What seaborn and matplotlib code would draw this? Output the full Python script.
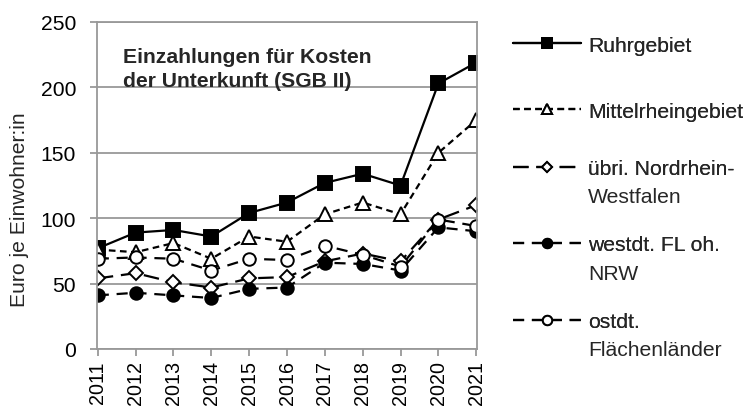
import matplotlib
matplotlib.use("Agg")
import matplotlib.pyplot as plt
import seaborn as sns
import pandas as pd

years = list(range(2011, 2022))
ruhrgebiet = [77, 89, 91, 86, 104, 112, 127, 134, 125, 203, 219]
mittelrhein = [76, 74, 81, 69, 86, 82, 103, 112, 103, 150, 175]
uebri_nrw = [54, 58, 51, 47, 54, 55, 67, 73, 67, 99, 110]
westdt_fl = [41, 43, 41, 39, 46, 47, 66, 65, 60, 93, 90]
ostdt_fl = [69, 70, 69, 60, 69, 68, 79, 72, 63, 99, 94]

series_names = ["Ruhrgebiet", "Mittelrheingebiet", "übri. Nordrhein-\nWestfalen",
                "westdt. FL oh.\nNRW", "ostdt.\nFlächenländer"]
series_values = [ruhrgebiet, mittelrhein, uebri_nrw, westdt_fl, ostdt_fl]

df = pd.DataFrame({
    "Jahr": [str(y) for _ in series_names for y in years],
    "Wert": [v for vals in series_values for v in vals],
    "Region": [n for n in series_names for _ in years],
})

sns.set_theme(style="white")
plt.rcParams["font.family"] = ["Liberation Sans", "DejaVu Sans"]
FS = 15.2
GRID = "#999999"

styles = {
    series_names[0]: dict(marker="s", mfc="black", dashes=None, ms=9.5),
    series_names[1]: dict(marker="^", mfc="white", dashes=(3, 2), ms=9.5),
    series_names[2]: dict(marker="D", mfc="white", dashes=(7, 3.5), ms=7),
    series_names[3]: dict(marker="o", mfc="black", dashes=(5, 3.5), ms=9),
    series_names[4]: dict(marker="o", mfc="white", dashes=(5, 3.5), ms=9),
}

W, H = 747, 410
fig = plt.figure(figsize=(W / 100, H / 100), dpi=100)
ax = fig.add_axes([97 / W, 1 - 350 / H, (477 - 97) / W, (350 - 23) / H])

lines = []
for name in series_names:
    st = styles[name]
    sub = df[df["Region"] == name]
    sns.lineplot(data=sub, x="Jahr", y="Wert", ax=ax, color="black",
                 linewidth=1.6, marker=st["marker"], markersize=st["ms"],
                 markerfacecolor=st["mfc"], markeredgecolor="black",
                 markeredgewidth=1.4, sort=False, legend=False)
    line = ax.lines[-1]
    if st["dashes"] is not None:
        line.set_dashes(st["dashes"])
    lines.append(line)

ax.set_ylim(0, 250)
ax.set_xlim(-0.02, len(years) - 1 + 0.02)
ax.set_yticks([0, 50, 100, 150, 200, 250])
ax.yaxis.grid(True, color=GRID, linewidth=1.3)
ax.set_axisbelow(True)
for sp in ax.spines.values():
    sp.set_color(GRID)
    sp.set_linewidth(1.3)

ax.tick_params(axis="both", which="both", colors="black",
               length=5, width=1.3, color=GRID, direction="out",
               left=True, bottom=True)
ax.tick_params(axis="y", pad=10, labelsize=FS)
ax.tick_params(axis="x", pad=3, labelsize=14.2)
plt.setp(ax.get_xticklabels(), rotation=90)
ax.set_xlabel("")
ax.set_ylabel("Euro je Einwohner:in", fontsize=FS)
ax.yaxis.set_label_coords(-0.178, 0.43)

ax.text(26 / 380, 1 - 25 / 327, "Einzahlungen für Kosten\nder Unterkunft (SGB II)",
        transform=ax.transAxes, fontsize=FS, fontweight="bold",
        va="top", ha="left", linespacing=1.35)

# one legend entry per series; wrapped labels continue below the first line
entry_y = [46, 112, 170, 246, 323]
line_gap = 28
for line, name, y in zip(lines, series_names, entry_y):
    parts = name.split("\n")
    leg = fig.legend([line], [parts[0]], loc="center left",
                     bbox_to_anchor=(513 / W, 1 - y / H), frameon=False,
                     fontsize=FS, handlelength=3.2, handletextpad=0.35,
                     borderpad=0, borderaxespad=0, markerscale=0.75)
    fig.add_artist(leg)
    for k, extra in enumerate(parts[1:], start=1):
        fig.text(588 / W, 1 - (y + k * line_gap) / H, extra, fontsize=FS,
                 va="center", ha="left")

fig.savefig("out.png", dpi=100)
